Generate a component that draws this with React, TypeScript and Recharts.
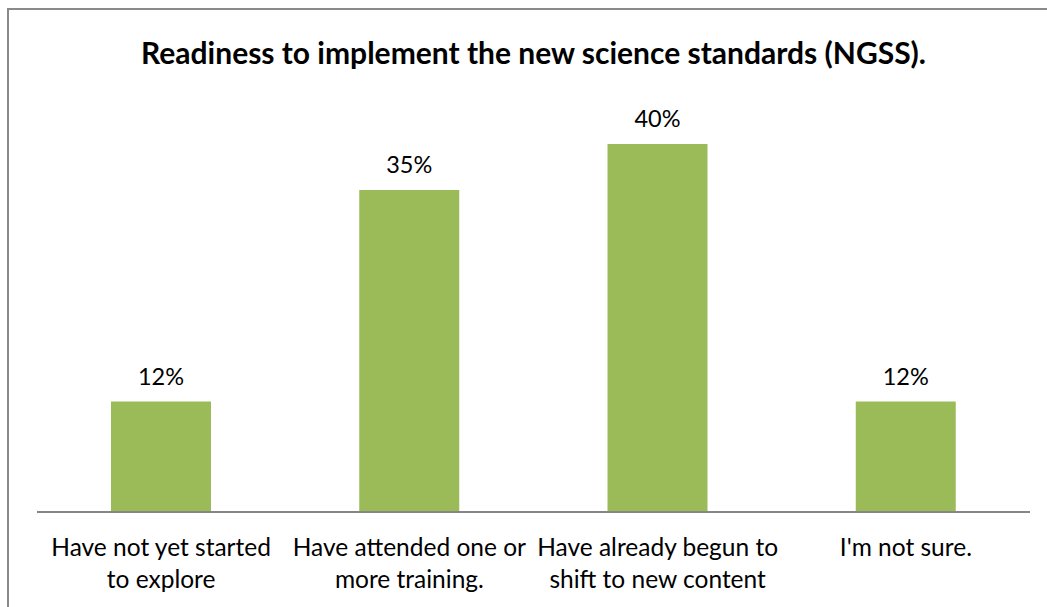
import { BarChart, Bar, XAxis, YAxis, LabelList } from "recharts";

const categories = [
  "Have not yet started\nto explore",
  "Have attended one or\nmore training.",
  "Have already begun to\nshift to new content",
  "I'm not sure.",
];
const shares = [12, 35, 40, 12];

const FONT = "Lato, 'Open Sans', sans-serif";

const data = categories.map((name, i) => ({ name, value: shares[i] }));

function WrappedTick(props: any) {
  const { x, y, payload } = props;
  const lines = String(payload.value).split("\n");
  return (
    <text x={x} y={y} textAnchor="middle" fill="#000" fontSize={24.5} fontFamily={FONT}>
      {lines.map((line, i) => (
        <tspan key={i} x={x} dy={i === 0 ? 36 : 32}>
          {line}
        </tspan>
      ))}
    </text>
  );
}

export default function App() {
  return (
    <div style={{ position: "relative", width: 1047, height: 607, background: "#fff", overflow: "hidden" }}>
      <style>{"body{margin:0;overflow:hidden}"}</style>
      {/* chart frame, cut off at right and bottom */}
      <div
        style={{
          position: "absolute",
          left: 7,
          top: 8,
          width: 1100,
          height: 700,
          borderLeft: "2px solid #8a8a8a",
          borderTop: "2px solid #8a8a8a",
        }}
      />
      <div
        style={{
          position: "absolute",
          left: 37,
          width: 993,
          top: 33,
          textAlign: "center",
          fontFamily: FONT,
          fontWeight: 700,
          fontSize: 30,
          lineHeight: "38px",
          color: "#000",
        }}
      >
        Readiness to implement the new science standards (NGSS).
      </div>
      <div style={{ position: "absolute", left: 0, top: 0 }}>
        <BarChart width={1047} height={607} data={data} margin={{ top: 98, right: 17, bottom: 0, left: 37 }}>
          <XAxis
            dataKey="name"
            axisLine={{ stroke: "#868686", strokeWidth: 2 }}
            tickLine={false}
            tick={<WrappedTick />}
            interval={0}
            height={95}
          />
          <YAxis hide domain={[0, 45]} />
          <Bar dataKey="value" fill="#9BBB59" barSize={100} isAnimationActive={false}>
            <LabelList
              dataKey="value"
              position="top"
              offset={17}
              formatter={(v: any) => `${v}%`}
              style={{ fontFamily: FONT, fontSize: 23.5, fill: "#000" }}
            />
          </Bar>
        </BarChart>
      </div>
    </div>
  );
}
